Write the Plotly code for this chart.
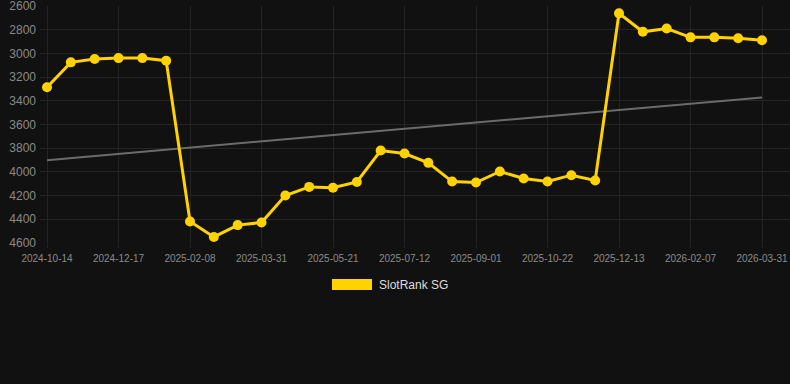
import plotly.graph_objects as go

# Data
rank_values = [3285, 3075, 3047, 3039, 3039, 3061, 4419, 4550, 4450, 4428,
               4200, 4127, 4135, 4085, 3820, 3845, 3924, 4082, 4090, 3997,
               4056, 4082, 4028, 4073, 2661, 2817, 2789, 2864, 2864, 2872, 2889]
tick_labels = ["2024-10-14", "2024-12-17", "2025-02-08", "2025-03-31", "2025-05-21",
               "2025-07-12", "2025-09-01", "2025-10-22", "2025-12-13", "2026-02-07",
               "2026-03-31"]
trend_values = [3901, 3372]
y_ticks = [2600, 2800, 3000, 3200, 3400, 3600, 3800, 4000, 4200, 4400, 4600]
series_name = "SlotRank SG"

n = len(rank_values)
x_idx = list(range(n))
tick_pos = list(range(0, n, 3))

YELLOW = "#FFD200"
BG = "#111111"
GRID = "#242424"
TICK = "#8a8a8a"

fig = go.Figure()
fig.add_trace(go.Scatter(
    x=[0, n - 1], y=trend_values, mode="lines",
    line=dict(color="#6b6b6b", width=2), hoverinfo="skip", showlegend=False))
fig.add_trace(go.Scatter(
    x=x_idx, y=rank_values, mode="lines+markers", name=series_name,
    line=dict(color=YELLOW, width=3),
    marker=dict(color=YELLOW, size=10), showlegend=False))

# legend drawn as a box + text
fig.add_shape(type="rect", xref="paper", yref="paper",
              x0=(332 - 40) / 750, x1=(372 - 40) / 750,
              y0=(243 - 290) / 237, y1=(243 - 279) / 237,
              fillcolor=YELLOW, line=dict(width=0))
fig.add_annotation(xref="paper", yref="paper", x=(377 - 40) / 750, y=(243 - 284.5) / 237,
                   text=series_name, showarrow=False, xanchor="left", yanchor="middle",
                   font=dict(size=12, color="#dddddd", family="Liberation Sans, Arial"))

fig.update_layout(
    width=790, height=384,
    margin=dict(l=40, r=0, t=6, b=141),
    paper_bgcolor=BG, plot_bgcolor=BG,
    font=dict(family="Liberation Sans, Arial", color=TICK),
    showlegend=False,
    xaxis=dict(range=[-0.294, 31.175], tickmode="array", tickvals=tick_pos,
               ticktext=tick_labels, showgrid=True, gridcolor=GRID, gridwidth=1,
               zeroline=False, showline=False, tickfont=dict(size=10, color=TICK),
               ticks="outside", ticklen=4, tickcolor=GRID, ticklabelstandoff=2,
               ticklabeloverflow="allow"),
    yaxis=dict(range=[4601, 2599], tickmode="array", tickvals=y_ticks,
               showgrid=True, gridcolor=GRID, gridwidth=1, zeroline=False,
               showline=False, tickfont=dict(size=12, color=TICK),
               ticks="", ticklabelstandoff=3, ticklabeloverflow="allow"),
)

fig.write_html("out.html", config={"displayModeBar": False},
               post_script="document.body.style.margin='0';document.body.style.background='#111111';")
